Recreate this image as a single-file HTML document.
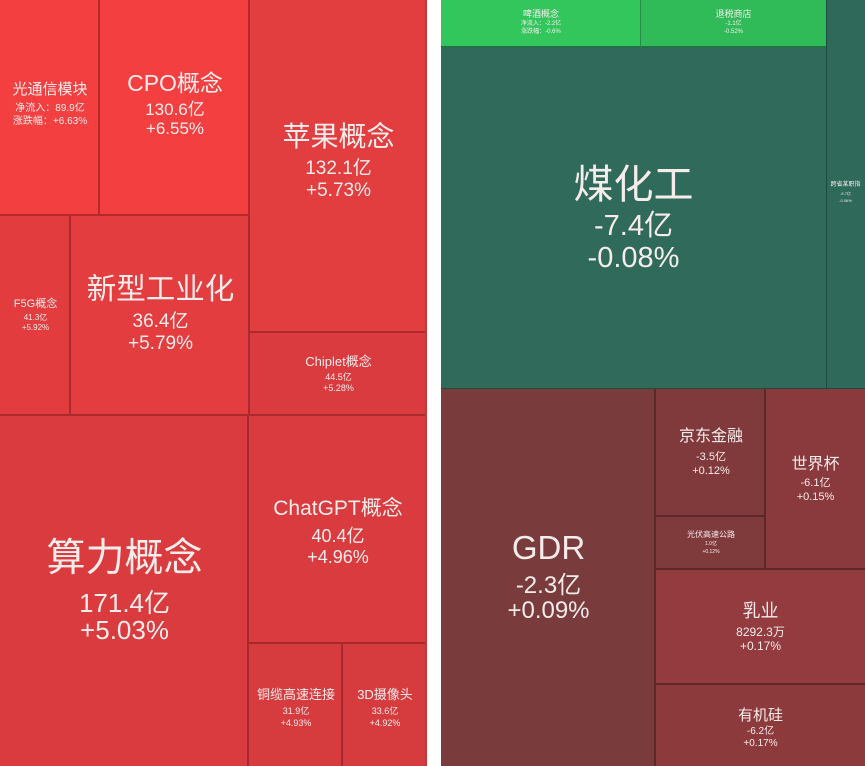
<!DOCTYPE html>
<html><head><meta charset="utf-8">
<style>
html,body{margin:0;padding:0;background:#fff;}
#w{position:relative;width:865px;height:766px;overflow:hidden;background:#fff;font-family:"Liberation Sans","Noto Sans CJK SC",sans-serif;}
.c{position:absolute;box-sizing:border-box;}
.t{position:absolute;text-align:center;color:#f7ecec;white-space:nowrap;}
</style></head><body>
<div id="w">
<!-- LEFT PANEL -->
<div class="c" style="left:0;top:0;width:100px;height:216px;background:#f43f40;border-right:2px solid #b5292c;border-bottom:2px solid #b5292c;"></div>
<div class="c" style="left:100px;top:0;width:150px;height:216px;background:#f43f40;border-right:2px solid #b5292c;border-bottom:2px solid #b5292c;"></div>
<div class="c" style="left:250px;top:0;width:177px;height:333px;background:#e23d3f;border-bottom:2px solid #b02a2d;"></div>
<div class="c" style="left:0;top:216px;width:71px;height:200px;background:#e23c3e;border-right:2px solid #aa2a2d;border-bottom:2px solid #aa2a2d;"></div>
<div class="c" style="left:71px;top:216px;width:179px;height:200px;background:#e43d3f;border-right:2px solid #aa2a2d;border-bottom:2px solid #aa2a2d;"></div>
<div class="c" style="left:250px;top:333px;width:177px;height:83px;background:#da3b3e;border-bottom:2px solid #aa2a2d;"></div>
<div class="c" style="left:0;top:416px;width:249px;height:350px;background:#da3b3e;border-right:2px solid #a8292c;"></div>
<div class="c" style="left:249px;top:416px;width:178px;height:228px;background:#da3b3e;border-bottom:2px solid #a8292c;"></div>
<div class="c" style="left:249px;top:644px;width:94px;height:122px;background:#d63b3e;border-right:2px solid #a8292c;"></div>
<div class="c" style="left:343px;top:644px;width:84px;height:122px;background:#d63b3e;"></div>
<div class="c" style="left:425px;top:0;width:2px;height:766px;background:#c0393b;"></div>

<!-- left texts -->
<div class="t" style="left:0;width:100px;top:80px;font-size:15px;line-height:20px;">光通信模块</div>
<div class="t" style="left:0;width:100px;top:102px;font-size:10px;line-height:13px;">净流入：89.9亿</div>
<div class="t" style="left:0;width:100px;top:115px;font-size:10px;line-height:13px;">涨跌幅：+6.63%</div>

<div class="t" style="left:100px;width:150px;top:69px;font-size:23px;line-height:28px;">CPO概念</div>
<div class="t" style="left:100px;width:150px;top:99px;font-size:17px;line-height:21px;">130.6亿</div>
<div class="t" style="left:100px;width:150px;top:118px;font-size:17px;line-height:21px;">+6.55%</div>

<div class="t" style="left:250px;width:177px;top:121px;font-size:28px;line-height:32px;">苹果概念</div>
<div class="t" style="left:250px;width:177px;top:157px;font-size:19px;line-height:23px;">132.1亿</div>
<div class="t" style="left:250px;width:177px;top:179px;font-size:19px;line-height:23px;">+5.73%</div>

<div class="t" style="left:0;width:71px;top:297px;font-size:11px;line-height:15px;">F5G概念</div>
<div class="t" style="left:0;width:71px;top:313px;font-size:8px;line-height:10px;">41.3亿</div>
<div class="t" style="left:0;width:71px;top:323px;font-size:8px;line-height:10px;">+5.92%</div>

<div class="t" style="left:71px;width:179px;top:273px;font-size:29.5px;line-height:34px;">新型工业化</div>
<div class="t" style="left:71px;width:179px;top:310px;font-size:19px;line-height:23px;">36.4亿</div>
<div class="t" style="left:71px;width:179px;top:332px;font-size:19px;line-height:23px;">+5.79%</div>

<div class="t" style="left:250px;width:177px;top:354px;font-size:13px;line-height:16px;">Chiplet概念</div>
<div class="t" style="left:250px;width:177px;top:372px;font-size:9px;line-height:11px;">44.5亿</div>
<div class="t" style="left:250px;width:177px;top:383px;font-size:9px;line-height:11px;">+5.28%</div>

<div class="t" style="left:0;width:249px;top:536px;font-size:39px;line-height:46px;">算力概念</div>
<div class="t" style="left:0;width:249px;top:588px;font-size:26px;line-height:31px;">171.4亿</div>
<div class="t" style="left:0;width:249px;top:615px;font-size:26px;line-height:31px;">+5.03%</div>

<div class="t" style="left:249px;width:178px;top:495px;font-size:21px;line-height:27px;">ChatGPT概念</div>
<div class="t" style="left:249px;width:178px;top:525px;font-size:18px;line-height:22px;">40.4亿</div>
<div class="t" style="left:249px;width:178px;top:546px;font-size:18px;line-height:22px;">+4.96%</div>

<div class="t" style="left:249px;width:94px;top:686px;font-size:13px;line-height:17px;">铜缆高速连接</div>
<div class="t" style="left:249px;width:94px;top:706px;font-size:9px;line-height:11px;">31.9亿</div>
<div class="t" style="left:249px;width:94px;top:718px;font-size:9px;line-height:11px;">+4.93%</div>

<div class="t" style="left:343px;width:84px;top:686px;font-size:13px;line-height:17px;">3D摄像头</div>
<div class="t" style="left:343px;width:84px;top:706px;font-size:9px;line-height:11px;">33.6亿</div>
<div class="t" style="left:343px;width:84px;top:718px;font-size:9px;line-height:11px;">+4.92%</div>

<!-- RIGHT PANEL -->
<div class="c" style="left:441px;top:0;width:200px;height:48px;background:#33c65c;border-right:1px solid #2a8a4a;border-bottom:2px solid #23704a;"></div>
<div class="c" style="left:641px;top:0;width:185px;height:48px;background:#31bb58;border-bottom:2px solid #23704a;"></div>
<div class="c" style="left:826px;top:0;width:39px;height:389px;background:#2f695a;border-left:1px solid #1f4a3e;border-bottom:1px solid #1f4a3e;"></div>
<div class="c" style="left:441px;top:48px;width:385px;height:341px;background:#2f6a5a;border-bottom:1px solid #234a3f;"></div>

<div class="c" style="left:441px;top:389px;width:215px;height:377px;background:#7a3b3c;border-right:2px solid #5a2a2b;"></div>
<div class="c" style="left:656px;top:389px;width:110px;height:128px;background:#803a3c;border-right:2px solid #5a2a2b;border-bottom:2px solid #5a2a2b;"></div>
<div class="c" style="left:766px;top:389px;width:99px;height:181px;background:#8a3a3d;border-bottom:2px solid #5a2a2b;"></div>
<div class="c" style="left:656px;top:517px;width:110px;height:53px;background:#7f3a3c;border-right:2px solid #5a2a2b;border-bottom:2px solid #5a2a2b;"></div>
<div class="c" style="left:656px;top:570px;width:209px;height:115px;background:#933b3e;border-bottom:2px solid #5e2a2c;"></div>
<div class="c" style="left:656px;top:685px;width:209px;height:81px;background:#8d3a3d;"></div>

<!-- right texts -->
<div class="t" style="left:441px;width:200px;top:8px;font-size:9px;line-height:12px;">啤酒概念</div>
<div class="t" style="left:441px;width:200px;top:20px;font-size:6px;line-height:8px;">净流入：-2.2亿</div>
<div class="t" style="left:441px;width:200px;top:28px;font-size:6px;line-height:8px;">涨跌幅：-0.6%</div>

<div class="t" style="left:641px;width:185px;top:8px;font-size:9px;line-height:12px;">退税商店</div>
<div class="t" style="left:641px;width:185px;top:20px;font-size:6px;line-height:8px;">-1.1亿</div>
<div class="t" style="left:641px;width:185px;top:28px;font-size:6px;line-height:8px;">-0.52%</div>

<div class="t" style="left:826px;width:39px;top:181px;font-size:6px;line-height:9px;">跨省某职指</div>
<div class="t" style="left:826px;width:39px;top:191px;font-size:4px;line-height:6px;">-5.7亿</div>
<div class="t" style="left:826px;width:39px;top:198px;font-size:4px;line-height:6px;">-0.06%</div>

<div class="t" style="left:441px;width:385px;top:161px;font-size:40px;line-height:48px;">煤化工</div>
<div class="t" style="left:441px;width:385px;top:209px;font-size:29px;line-height:35px;">-7.4亿</div>
<div class="t" style="left:441px;width:385px;top:241px;font-size:29px;line-height:35px;">-0.08%</div>

<div class="t" style="left:441px;width:215px;top:528px;font-size:33px;line-height:40px;">GDR</div>
<div class="t" style="left:441px;width:215px;top:572px;font-size:24px;line-height:28px;">-2.3亿</div>
<div class="t" style="left:441px;width:215px;top:597px;font-size:24px;line-height:28px;">+0.09%</div>

<div class="t" style="left:656px;width:110px;top:427px;font-size:16px;line-height:20px;">京东金融</div>
<div class="t" style="left:656px;width:110px;top:450px;font-size:11px;line-height:14px;">-3.5亿</div>
<div class="t" style="left:656px;width:110px;top:464px;font-size:11px;line-height:14px;">+0.12%</div>

<div class="t" style="left:766px;width:99px;top:455px;font-size:16px;line-height:20px;">世界杯</div>
<div class="t" style="left:766px;width:99px;top:476px;font-size:11px;line-height:14px;">-6.1亿</div>
<div class="t" style="left:766px;width:99px;top:490px;font-size:11px;line-height:14px;">+0.15%</div>

<div class="t" style="left:656px;width:110px;top:530px;font-size:8px;line-height:10px;">光伏高速公路</div>
<div class="t" style="left:656px;width:110px;top:541px;font-size:5px;line-height:7px;">1.0亿</div>
<div class="t" style="left:656px;width:110px;top:549px;font-size:5px;line-height:7px;">+0.12%</div>

<div class="t" style="left:656px;width:209px;top:600px;font-size:18px;line-height:22px;">乳业</div>
<div class="t" style="left:656px;width:209px;top:625px;font-size:12px;line-height:15px;">8292.3万</div>
<div class="t" style="left:656px;width:209px;top:639px;font-size:12px;line-height:15px;">+0.17%</div>

<div class="t" style="left:656px;width:209px;top:706px;font-size:15px;line-height:19px;">有机硅</div>
<div class="t" style="left:656px;width:209px;top:726px;font-size:10px;line-height:12px;">-6.2亿</div>
<div class="t" style="left:656px;width:209px;top:738px;font-size:10px;line-height:12px;">+0.17%</div>
</div>
</body></html>
